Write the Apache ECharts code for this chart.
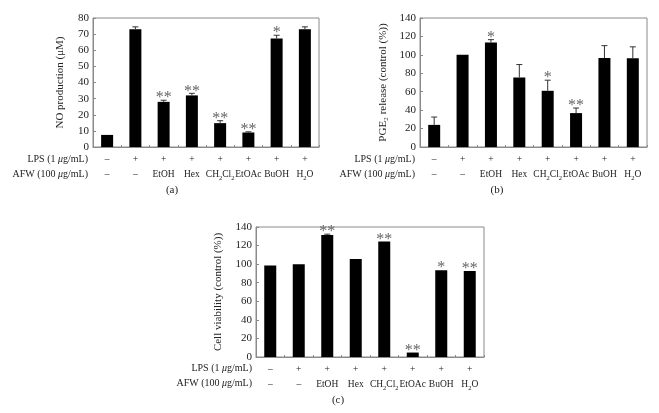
<!DOCTYPE html>
<html>
<head>
<meta charset="utf-8">
<script src="https://cdn.jsdelivr.net/npm/echarts@6/dist/echarts.min.js"></script>
<style>html,body{margin:0;padding:0;background:#fff}#c{width:659px;height:413px}</style>
</head>
<body>
<div id="c"></div>
<script>
// ---- data ----
var lpsRow = ['\u2013', '+', '+', '+', '+', '+', '+', '+'];
var afwRow = ['\u2013', '\u2013', 'EtOH', 'Hex', 'CH{s|2}Cl{s|2}', 'EtOAc', 'BuOH', 'H{s|2}O'];

var noValues = [7.5, 73, 28, 32, 14.8, 9, 67.3, 73];
var noErrors = [0, 1.5, 1, 1.3, 1.5, 0.4, 2, 1.5];
var noSig = ['', '', '**', '**', '**', '**', '*', ''];
var noTicks = [0, 10, 20, 30, 40, 50, 60, 70, 80];

var pgeValues = [24, 100, 113.5, 75.5, 61, 36.8, 96.5, 96.2];
var pgeErrors = [8.5, 0, 3, 14, 11.5, 5.5, 13.5, 12.5];
var pgeSig = ['', '', '*', '', '*', '**', '', ''];
var pgeTicks = [0, 20, 40, 60, 80, 100, 120, 140];

var cvValues = [98.5, 100, 131.5, 105.5, 124.5, 4.8, 93.5, 92.5];
var cvErrors = [0, 0, 0.8, 0, 0, 0, 0, 0];
var cvSig = ['', '', '**', '', '**', '**', '*', '**'];
var cvTicks = [0, 20, 40, 60, 80, 100, 120, 140];

var FONT = '"Liberation Serif", "Times New Roman", serif';
var AXC = '#8a8a8a';
var TXT = '#222';

var panels = [
  {grid: {left: 93, top: 18, width: 226, height: 129}, vals: noValues, errs: noErrors, sig: noSig, ticks: noTicks,
   name: 'NO production (\u03bcM)', nameGap: 27},
  {grid: {left: 420, top: 18, width: 227, height: 129}, vals: pgeValues, errs: pgeErrors, sig: pgeSig, ticks: pgeTicks,
   name: 'PGE\u2082 release (control (%))', nameGap: 31},
  {grid: {left: 256, top: 227, width: 228, height: 130}, vals: cvValues, errs: cvErrors, sig: cvSig, ticks: cvTicks,
   name: 'Cell viability (control (%))', nameGap: 32}
];

var grids = [], xAxes = [], yAxes = [], series = [];
panels.forEach(function (p, i) {
  grids.push(Object.assign({show: true, borderColor: AXC, borderWidth: 1, backgroundColor: 'transparent'}, p.grid));
  xAxes.push({
    type: 'category', gridIndex: i, data: afwRow,
    axisLine: {lineStyle: {color: AXC, width: 1}},
    axisTick: {show: true, inside: true, length: 2, alignWithLabel: false, lineStyle: {color: AXC}},
    axisLabel: {
      interval: 0, margin: 5, fontFamily: FONT, fontSize: 9.5, color: TXT, lineHeight: 15,
      formatter: function (v, idx) { return lpsRow[idx] + '\n' + v; },
      rich: {s: {fontFamily: FONT, fontSize: 6.5, color: TXT, verticalAlign: 'bottom', lineHeight: 12}}
    }
  });
  var t = p.ticks;
  yAxes.push({
    type: 'value', gridIndex: i, min: t[0], max: t[t.length - 1], interval: t[1] - t[0],
    name: p.name, nameLocation: 'middle', nameGap: p.nameGap,
    nameTextStyle: {fontFamily: FONT, fontSize: 11, color: TXT},
    axisLine: {show: true, lineStyle: {color: AXC, width: 1}},
    axisTick: {show: true, inside: true, length: 3, lineStyle: {color: AXC}},
    splitLine: {show: false},
    axisLabel: {margin: 4, fontFamily: FONT, fontSize: 11, color: TXT}
  });
  series.push({
    type: 'bar', xAxisIndex: i, yAxisIndex: i, data: p.vals, barWidth: 12,
    itemStyle: {color: '#000'}, silent: true, z: 2
  });
  var errData = p.vals.map(function (v, k) { return [k, v, p.errs[k]]; });
  series.push({
    type: 'custom', xAxisIndex: i, yAxisIndex: i, data: errData, silent: true, z: 3,
    renderItem: function (params, api) {
      var x = api.value(0), v = api.value(1), e = api.value(2);
      if (!e) return null;
      var p0 = api.coord([x, v]);
      var p1 = api.coord([x, v + e]);
      var style = {stroke: '#333', lineWidth: 1};
      return {type: 'group', children: [
        {type: 'line', shape: {x1: p0[0], y1: p0[1], x2: p1[0], y2: p1[1]}, style: style},
        {type: 'line', shape: {x1: p1[0] - 3, y1: p1[1], x2: p1[0] + 3, y2: p1[1]}, style: style}
      ]};
    }
  });
  var sigData = p.vals.map(function (v, k) { return [k, v + p.errs[k], p.sig[k]]; });
  series.push({
    type: 'custom', xAxisIndex: i, yAxisIndex: i, data: sigData, silent: true, z: 4,
    renderItem: function (params, api) {
      var s = p.sig[params.dataIndex];
      if (!s) return null;
      var pt = api.coord([api.value(0), api.value(1)]);
      return {type: 'text', x: pt[0], y: pt[1] + 6,
        style: {text: s, fontFamily: FONT, fontSize: 16, fill: '#666', align: 'center', verticalAlign: 'bottom'}};
    }
  });
});

function rowTitle(x, y, pre, post) {
  return {type: 'text', x: x, y: y,
    style: {text: '{r|' + pre + '}{m|\u03bc}{r|' + post + '}', align: 'right', verticalAlign: 'middle',
      fontFamily: FONT, fontSize: 10, fill: TXT,
      rich: {
        r: {fontFamily: FONT, fontSize: 10, fill: TXT},
        m: {fontStyle: 'italic', fontFamily: FONT, fontSize: 10, fill: TXT}
      }}};
}
function caption(x, y, s) {
  return {type: 'text', x: x, y: y, style: {text: s, align: 'center', verticalAlign: 'middle', fontFamily: FONT, fontSize: 11, fill: TXT}};
}

var graphics = [
  rowTitle(88, 159, 'LPS (1 ', 'g/mL)'), rowTitle(88, 174, 'AFW (100 ', 'g/mL)'),
  rowTitle(415, 159, 'LPS (1 ', 'g/mL)'), rowTitle(415, 174, 'AFW (100 ', 'g/mL)'),
  rowTitle(252, 368, 'LPS (1 ', 'g/mL)'), rowTitle(252, 383, 'AFW (100 ', 'g/mL)'),
  caption(172, 190, '(a)'), caption(497, 190, '(b)'), caption(338, 400, '(c)')
];

var chart = echarts.init(document.getElementById('c'), null, {renderer: 'canvas'});
chart.setOption({
  animation: false,
  backgroundColor: '#fff',
  textStyle: {fontFamily: FONT},
  grid: grids, xAxis: xAxes, yAxis: yAxes, series: series,
  graphic: graphics
});
</script>
</body>
</html>
